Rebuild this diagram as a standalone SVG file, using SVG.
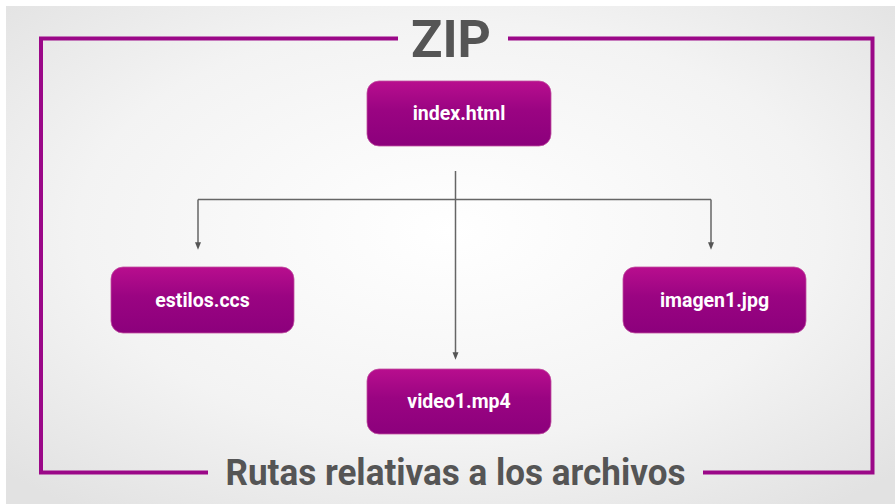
<svg xmlns="http://www.w3.org/2000/svg" width="895" height="504" viewBox="0 0 895 504">
<defs>
<radialGradient id="bg" cx="0.5" cy="0.45" r="0.7">
<stop offset="0" stop-color="#ffffff"/>
<stop offset="0.6" stop-color="#f3f3f3"/>
<stop offset="1" stop-color="#e2e2e2"/>
</radialGradient>
<linearGradient id="ng" x1="0" y1="0" x2="0" y2="1">
<stop offset="0" stop-color="#b80e8e"/>
<stop offset="0.45" stop-color="#9a0482"/>
<stop offset="1" stop-color="#8c007c"/>
</linearGradient>
<marker id="arr" viewBox="0 0 10 10" refX="5" refY="5" markerWidth="5" markerHeight="5" orient="auto">
<path d="M0,1 L10,5 L0,9 z" fill="#555"/>
</marker>
<style>
.node rect{fill:url(#ng);stroke:#c0509f;stroke-width:0.8}
.node text{fill:#ffffff;font-family:Roboto,"Liberation Sans",sans-serif;font-weight:bold;font-size:19.5px;text-anchor:middle}
.frame{stroke:#9b0888;stroke-width:4;fill:none}
.conn{stroke:#666;stroke-width:1.5;fill:none}
.title{fill:#555;font-family:Roboto,"Liberation Sans",sans-serif;font-weight:bold;text-anchor:middle}
</style>
</defs>
<rect x="0" y="0" width="895" height="504" fill="#ffffff"/>
<rect x="6" y="6" width="889" height="498" fill="url(#bg)"/>
<g id="frame">
<polyline class="frame" points="398,38.5 41,38.5 41,472.5 208,472.5"/>
<polyline class="frame" points="508,38.5 872.5,38.5 872.5,472.5 703,472.5"/>
<text class="title" x="451" y="57" font-size="52" textLength="80" lengthAdjust="spacingAndGlyphs">ZIP</text>
<text class="title" x="455.5" y="485" font-size="36" font-weight="500" textLength="460" lengthAdjust="spacingAndGlyphs">Rutas relativas a los archivos</text>
</g>
<g id="connectors">
<path class="conn" d="M455.5,171 V356" marker-end="url(#arr)"/>
<path class="conn" d="M198,199.5 H711"/>
<path class="conn" d="M198,199.5 V246" marker-end="url(#arr)"/>
<path class="conn" d="M711,199.5 V246" marker-end="url(#arr)"/>
</g>
<g id="node-index" class="node">
<rect x="367" y="81" width="184" height="65" rx="12"/>
<text x="459" y="120">index.html</text>
</g>
<g id="node-estilos" class="node">
<rect x="111" y="267" width="183" height="66" rx="12"/>
<text x="202.5" y="307">estilos.ccs</text>
</g>
<g id="node-imagen" class="node">
<rect x="623" y="267" width="183" height="66" rx="12"/>
<text x="714.5" y="307">imagen1.jpg</text>
</g>
<g id="node-video" class="node">
<rect x="367" y="369" width="184" height="65" rx="12"/>
<text x="459" y="408">video1.mp4</text>
</g>
</svg>
